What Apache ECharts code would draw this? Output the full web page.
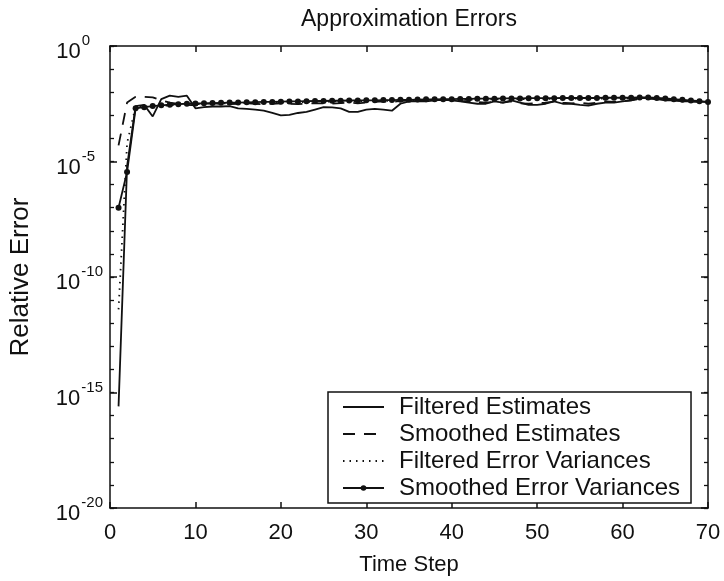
<!DOCTYPE html>
<html>
<head>
<meta charset="utf-8">
<script src="https://cdn.jsdelivr.net/npm/echarts@6/dist/echarts.min.js"></script>
<style>
html,body{margin:0;padding:0;background:#fff;}
#chart{width:724px;height:581px;}
</style>
</head>
<body>
<div id="chart"></div>
<script>
// Time steps
const timeSteps = [1,2,3,4,5,6,7,8,9,10,11,12,13,14,15,16,17,18,19,20,
  21,22,23,24,25,26,27,28,29,30,31,32,33,34,35,36,37,38,39,40,
  41,42,43,44,45,46,47,48,49,50,51,52,53,54,55,56,57,58,59,60,
  61,62,63,64,65,66,67,68,69,70];

// Values, as base-10 exponents of the relative error
const filteredEstimatesExp = [-15.6,-5.2,-2.6,-2.55,-3.05,-2.3,-2.15,-2.2,-2.15,-2.7,
  -2.65,-2.62,-2.62,-2.6,-2.7,-2.72,-2.75,-2.8,-2.9,-3.0,
  -2.98,-2.9,-2.85,-2.75,-2.65,-2.66,-2.7,-2.85,-2.85,-2.75,
  -2.72,-2.75,-2.8,-2.5,-2.4,-2.38,-2.4,-2.35,-2.33,-2.35,
  -2.4,-2.45,-2.5,-2.5,-2.4,-2.45,-2.35,-2.45,-2.55,-2.55,
  -2.5,-2.4,-2.5,-2.5,-2.55,-2.58,-2.5,-2.45,-2.45,-2.4,
  -2.35,-2.25,-2.25,-2.3,-2.35,-2.35,-2.4,-2.4,-2.42,-2.42];

const smoothedEstimatesExp = [-4.3,-2.45,-2.2,-2.2,-2.22,-2.35,-2.45,-2.5,-2.55,-2.57,
  -2.5,-2.48,-2.5,-2.52,-2.5,-2.48,-2.5,-2.52,-2.5,-2.48,
  -2.5,-2.52,-2.5,-2.47,-2.48,-2.5,-2.47,-2.45,-2.48,-2.45,
  -2.42,-2.4,-2.42,-2.38,-2.36,-2.35,-2.37,-2.35,-2.33,-2.35,
  -2.38,-2.4,-2.42,-2.45,-2.42,-2.45,-2.4,-2.48,-2.5,-2.47,
  -2.45,-2.4,-2.45,-2.48,-2.45,-2.5,-2.45,-2.4,-2.42,-2.38,
  -2.35,-2.3,-2.28,-2.3,-2.32,-2.35,-2.38,-2.4,-2.42,-2.43];

const filteredVariancesExp = [-11.4,-4.2,-2.62,-2.63,-2.62,-2.6,-2.57,-2.55,-2.53,-2.52,
  -2.51,-2.5,-2.49,-2.48,-2.48,-2.47,-2.46,-2.45,-2.45,-2.44,
  -2.43,-2.43,-2.42,-2.41,-2.41,-2.4,-2.4,-2.39,-2.39,-2.38,
  -2.38,-2.37,-2.37,-2.36,-2.36,-2.35,-2.34,-2.34,-2.33,-2.33,
  -2.32,-2.32,-2.31,-2.31,-2.31,-2.3,-2.3,-2.3,-2.29,-2.29,
  -2.29,-2.29,-2.28,-2.28,-2.28,-2.28,-2.28,-2.27,-2.27,-2.27,
  -2.27,-2.26,-2.26,-2.28,-2.3,-2.33,-2.36,-2.39,-2.41,-2.44];

const smoothedVariancesExp = [-7.0,-5.45,-2.7,-2.65,-2.6,-2.57,-2.54,-2.52,-2.5,-2.49,
  -2.48,-2.47,-2.46,-2.45,-2.45,-2.44,-2.43,-2.42,-2.42,-2.41,
  -2.4,-2.4,-2.39,-2.38,-2.38,-2.37,-2.37,-2.36,-2.36,-2.35,
  -2.35,-2.34,-2.34,-2.33,-2.33,-2.32,-2.31,-2.31,-2.3,-2.3,
  -2.29,-2.29,-2.28,-2.28,-2.28,-2.27,-2.27,-2.27,-2.26,-2.26,
  -2.26,-2.26,-2.25,-2.25,-2.25,-2.25,-2.25,-2.24,-2.24,-2.24,
  -2.24,-2.23,-2.23,-2.25,-2.27,-2.3,-2.33,-2.36,-2.39,-2.42];

const seriesNames = ['Filtered Estimates','Smoothed Estimates','Filtered Error Variances','Smoothed Error Variances'];
const xTickValues = [0,10,20,30,40,50,60,70];

function toPoints(exps){ return exps.map((e,i)=>[timeSteps[i], Math.pow(10, e)]); }

const FONT = '"Liberation Sans", Arial, Helvetica, sans-serif';
const black = '#111';

function yAxisBase(extra){
  return Object.assign({
    type:'log', logBase:10, min:1e-20, max:1,
    splitLine:{show:false},
    axisLine:{show:true, lineStyle:{color:black, width:1.5}},
    axisLabel:{show:false}
  }, extra);
}

const hiddenSymbol = {color:'rgba(0,0,0,0)', borderColor:'rgba(0,0,0,0)', borderWidth:0};

const chart = echarts.init(document.getElementById('chart'));
chart.setOption({
  backgroundColor:'#fff',
  animation:false,
  title:{
    text:'Approximation Errors', left:296, top:3,
    textStyle:{fontFamily:FONT, fontSize:23, fontWeight:'normal', color:black}
  },
  grid:{left:107, right:16, top:46, bottom:62, containLabel:false},
  legend:{
    orient:'vertical', left:328, top:392,
    data:[
      {name:seriesNames[0], itemStyle:hiddenSymbol},
      {name:seriesNames[1], itemStyle:hiddenSymbol},
      {name:seriesNames[2], itemStyle:hiddenSymbol},
      {name:seriesNames[3]}
    ],
    backgroundColor:'#fff', borderColor:black, borderWidth:1.5,
    padding:[3,11,3,14], itemGap:3, itemWidth:41, itemHeight:7,
    textStyle:{fontFamily:FONT, fontSize:24, color:black, lineHeight:24, padding:[0,0,0,10]}
  },
  xAxis:[
    {type:'value', min:0, max:70, interval:10, position:'bottom',
     name:'Time Step', nameLocation:'middle', nameGap:46,
     nameTextStyle:{fontFamily:FONT, fontSize:22, color:black},
     splitLine:{show:false},
     axisLine:{show:true, onZero:false, lineStyle:{color:black, width:1.5}},
     axisTick:{show:true, inside:true, length:6, lineStyle:{color:black, width:1.5}},
     axisLabel:{fontFamily:FONT, fontSize:22, color:black, margin:14,
       formatter:v=> xTickValues.indexOf(v)>=0 ? String(v) : ''}
    },
    {type:'value', min:0, max:70, interval:10, position:'top',
     splitLine:{show:false},
     axisLine:{show:true, onZero:false, lineStyle:{color:black, width:1.5}},
     axisTick:{show:true, inside:true, length:6, lineStyle:{color:black, width:1.5}},
     axisLabel:{show:false}
    }
  ],
  yAxis:[
    yAxisBase({position:'left', interval:5,
      name:'Relative Error', nameLocation:'middle', nameGap:76,
      nameTextStyle:{fontFamily:FONT, fontSize:26, color:black},
      axisTick:{show:true, inside:true, length:7, lineStyle:{color:black, width:1.5}},
      axisLabel:{show:true, margin:7, color:black, fontFamily:FONT,
        formatter:function(v){
          const e = Math.round(Math.log10(v));
          if (e % 5 !== 0) return '';
          const s = String(e);
          const style = s.length === 1 ? 's1' : (s.length === 2 ? 's2' : 's3');
          return '{b|10}{' + style + '|' + s + '}';
        },
        rich:{
          b:{fontFamily:FONT, fontSize:22, color:black, padding:[12,0,0,0]},
          s1:{fontFamily:FONT, fontSize:15, color:black, padding:[0,13,10,1]},
          s2:{fontFamily:FONT, fontSize:15, color:black, padding:[0,8,10,1]},
          s3:{fontFamily:FONT, fontSize:15, color:black, padding:[0,0,10,1]}
        }
      }
    }),
    yAxisBase({position:'left', interval:1,
      axisLine:{show:false},
      axisTick:{show:true, inside:true, length:4, lineStyle:{color:black, width:1.3}}
    }),
    yAxisBase({position:'right', interval:5,
      axisTick:{show:true, inside:true, length:7, lineStyle:{color:black, width:1.5}}
    }),
    yAxisBase({position:'right', interval:1,
      axisLine:{show:false},
      axisTick:{show:true, inside:true, length:4, lineStyle:{color:black, width:1.3}}
    })
  ],
  series:[
    {name:seriesNames[0], type:'line', xAxisIndex:0, yAxisIndex:0,
     data:toPoints(filteredEstimatesExp), symbol:'none', showSymbol:false,
     lineStyle:{color:black, width:1.8, type:'solid'}, itemStyle:{color:black}},
    {name:seriesNames[1], type:'line', xAxisIndex:0, yAxisIndex:0,
     data:toPoints(smoothedEstimatesExp), symbol:'none', showSymbol:false,
     lineStyle:{color:black, width:1.8, type:[12,9]}, itemStyle:{color:black}},
    {name:seriesNames[2], type:'line', xAxisIndex:0, yAxisIndex:0,
     data:toPoints(filteredVariancesExp), symbol:'none', showSymbol:false,
     lineStyle:{color:black, width:1.8, type:[1.5,5]}, itemStyle:{color:black}},
    {name:seriesNames[3], type:'line', xAxisIndex:0, yAxisIndex:0,
     data:toPoints(smoothedVariancesExp), symbol:'circle', symbolSize:6, showSymbol:true,
     lineStyle:{color:black, width:1.8, type:'solid'}, itemStyle:{color:black, borderWidth:0}}
  ]
});
</script>
</body>
</html>
